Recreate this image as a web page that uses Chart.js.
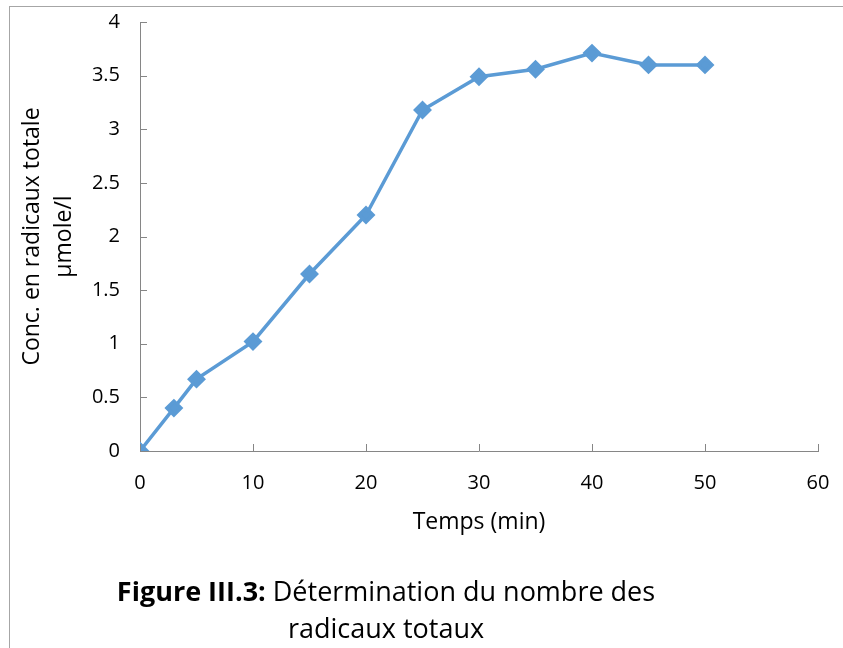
<!DOCTYPE html>
<html>
<head>
<meta charset="utf-8">
<script src="https://cdn.jsdelivr.net/npm/chart.js@4"></script>
<style>
  html, body { margin: 0; padding: 0; background: #fff; }
  #wrap { position: relative; width: 843px; height: 648px; }
  #frame { position: absolute; left: 9px; top: 6px; right: -2px; bottom: -2px;
           border-left: 1px solid #a6a6a6; border-top: 1px solid #a6a6a6; }
  #caption { position: absolute; left: 0; width: 772px; top: 572px; text-align: center;
             font-family: "Open Sans", sans-serif; font-size: 27px; line-height: 37px; color: #000; }
</style>
</head>
<body>
<div id="wrap">
  <div id="frame"></div>
  <canvas id="chart" width="843" height="648"></canvas>
  <div id="caption"><b>Figure III.3:</b> Détermination du nombre des<br>radicaux totaux</div>
</div>
<script>
const times = [0, 3, 5, 10, 15, 20, 25, 30, 35, 40, 45, 50];
const concentrations = [0, 0.40, 0.67, 1.02, 1.65, 2.20, 3.18, 3.49, 3.56, 3.71, 3.60, 3.60];
const xTitle = "Temps (min)";
const yTitle = ["Conc. en radicaux totale", "µmole/l"];

const axisColor = "#868686";
const fontFamily = "'Open Sans', sans-serif";

// ticks drawn inside the plot area, like the original
const innerTicks = {
    id: "innerTicks",
    afterDraw(chart) {
        const { ctx, scales: { x, y }, chartArea } = chart;
        ctx.save();
        ctx.strokeStyle = axisColor;
        ctx.lineWidth = 1;
        ctx.beginPath();
        x.ticks.forEach(t => {
            const px = Math.round(x.getPixelForValue(t.value)) + 0.5;
            ctx.moveTo(px, chartArea.bottom);
            ctx.lineTo(px, chartArea.bottom - 7);
        });
        y.ticks.forEach(t => {
            const py = Math.round(y.getPixelForValue(t.value)) + 0.5;
            ctx.moveTo(chartArea.left, py);
            ctx.lineTo(chartArea.left + 7, py);
        });
        ctx.stroke();
        ctx.restore();
    }
};

new Chart(document.getElementById("chart"), {
    type: "line",
    data: {
        datasets: [{
            data: times.map((t, i) => ({ x: t, y: concentrations[i] })),
            borderColor: "#5b9bd5",
            backgroundColor: "#5b9bd5",
            borderWidth: 3.5,
            pointStyle: "rectRot",
            pointRadius: 7,
            pointHoverRadius: 7,
            tension: 0,
        }],
    },
    options: {
        responsive: false,
        animation: false,
        layout: { padding: { top: 22, right: 25, bottom: 112, left: 0 } },
        plugins: {
            legend: { display: false },
            tooltip: { enabled: false },
        },
        scales: {
            x: {
                type: "linear",
                min: 0,
                max: 60,
                ticks: { stepSize: 10, padding: 20, color: "#000", font: { family: fontFamily, size: 20 } },
                grid: { display: true, drawOnChartArea: false, drawTicks: false },
                border: { color: axisColor },
                title: { display: true, text: xTitle, color: "#000", padding: { top: 4, bottom: 0 },
                         font: { family: fontFamily, size: 23 } },
                afterFit: (s) => { s.height = 85; s.paddingLeft = 0; s.paddingRight = 0; },
            },
            y: {
                min: 0,
                max: 4,
                ticks: { stepSize: 0.5, padding: 20, color: "#000", font: { family: fontFamily, size: 20 },
                         callback: (v) => String(v) },
                grid: { display: true, drawOnChartArea: false, drawTicks: false },
                border: { color: axisColor },
                title: { display: true, text: yTitle, color: "#000", padding: { top: 16, bottom: 0 },
                         font: { family: fontFamily, size: 23, lineHeight: 1.4 } },
                afterFit: (s) => { s.width = 140; s.paddingTop = 0; s.paddingBottom = 0; },
            },
        },
    },
    plugins: [innerTicks],
});
</script>
</body>
</html>
